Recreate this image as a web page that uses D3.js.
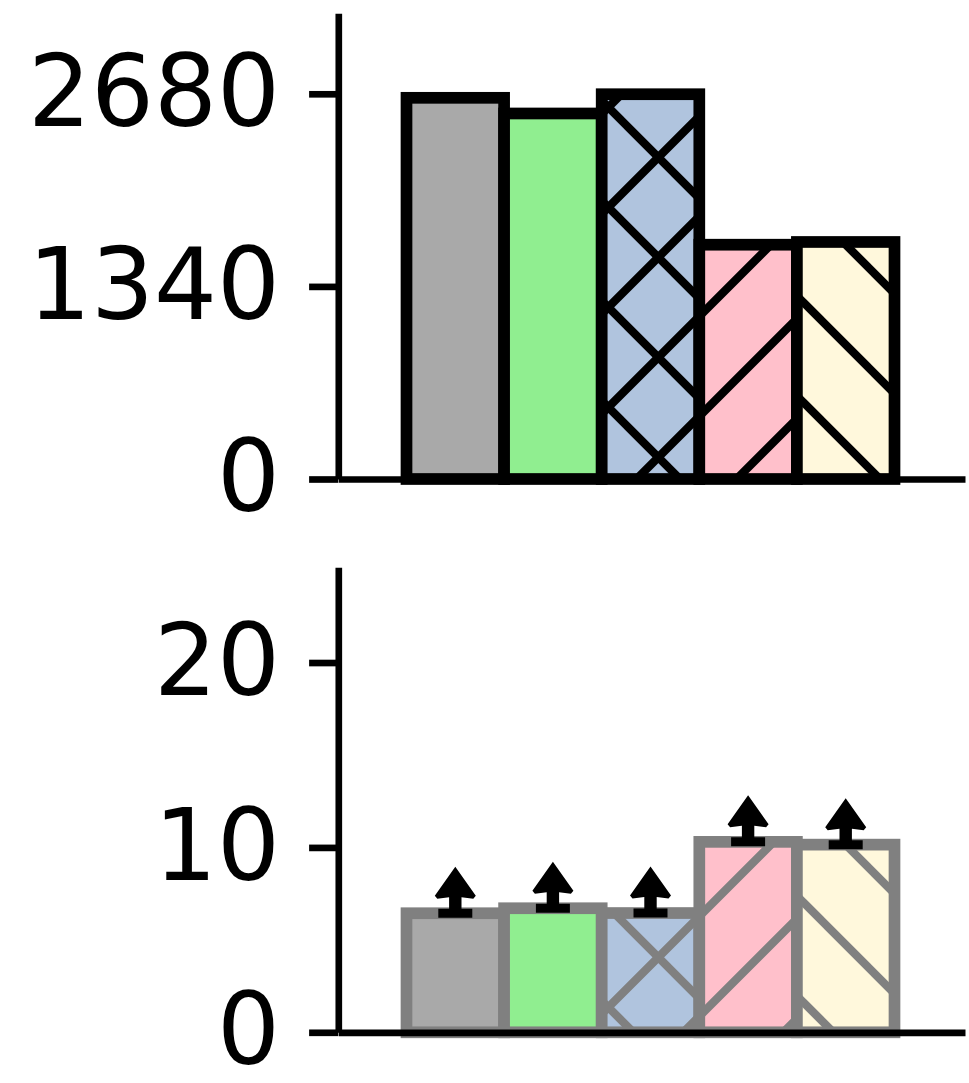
<!DOCTYPE html>
<html>
<head>
<meta charset="utf-8">
<script src="https://cdn.jsdelivr.net/npm/d3@7"></script>
<style>
  body { margin: 0; background: #fff; }
  svg { display: block; }
  text { font-family: "DejaVu Sans", sans-serif; }
</style>
</head>
<body>
<svg width="969" height="1083"></svg>
<script>
// data
const categories = ["A", "B", "C", "D", "E"];
const topValues = [2652, 2543, 2677, 1630, 1649];
const bottomValues = [6.44, 6.71, 6.45, 10.3, 10.15];
const topTicks = [0, 1340, 2680];
const bottomTicks = [0, 10, 20];
const fills = ["#a9a9a9", "#90ee90", "#b0c4de", "#ffc0cb", "#fff8dc"];
const hatches = [null, null, "x", "/", "\\"];

const svg = d3.select("svg");
const defs = svg.append("defs");

const lw = 6.67;      // spine / tick width
const edgeW = 11.7;   // bar edge width
const hatchW = 8.3;

// hatch patterns, aligned to page like matplotlib (period 100px)
function makePattern(id, kind, color) {
  const p = defs.append("pattern")
    .attr("id", id)
    .attr("patternUnits", "userSpaceOnUse")
    .attr("width", 100).attr("height", 100);
  const segs = [];
  if (kind === "/" || kind === "x") {
    [-84.4, 15.6, 115.6, 215.6].forEach(c => segs.push([c + 10, -10, c - 110, 110]));
  }
  if (kind === "\\" || kind === "x") {
    [-99, 1, 101].forEach(d => segs.push([d - 10, -10, d + 110, 110]));
  }
  p.selectAll("line").data(segs).enter().append("line")
    .attr("x1", d => d[0]).attr("y1", d => d[1])
    .attr("x2", d => d[2]).attr("y2", d => d[3])
    .attr("stroke", color).attr("stroke-width", hatchW);
}
["x", "/", "\\"].forEach((k, i) => {
  makePattern("hb" + i, k, "#000");
  makePattern("hg" + i, k, "#808080");
});
const patId = { "x": 0, "/": 1, "\\": 2 };

const x = d3.scaleLinear().domain([-1.2, 5.2]).range([338.3, 965]);
const barW = 97.6;

function panel(values, yMax, ticks, top, bottom, edge, hatchPrefix, arrows) {
  const y = d3.scaleLinear().domain([0, yMax]).range([bottom, top]);
  const g = svg.append("g");
  const xc = i => 455.3 + i * barW;

  values.forEach((v, i) => {
    const x0 = xc(i) - barW / 2;
    const bg = g.append("g");
    bg.append("rect")
      .attr("x", x0).attr("y", y(v))
      .attr("width", barW).attr("height", y(0) - y(v))
      .attr("fill", fills[i]);
    if (hatches[i]) {
      bg.append("rect")
        .attr("x", x0).attr("y", y(v))
        .attr("width", barW).attr("height", y(0) - y(v))
        .attr("fill", "url(#" + hatchPrefix + patId[hatches[i]] + ")");
    }
    bg.append("rect")
      .attr("x", x0).attr("y", y(v))
      .attr("width", barW).attr("height", y(0) - y(v))
      .attr("fill", "none")
      .attr("stroke", edge).attr("stroke-width", edgeW);
  });

  if (arrows) {
    const shape = [[0, -46.5], [20.5, -17.5], [18, -14.5], [6.2, -16], [6.2, -4.5],
      [17, -4.5], [17, 4.5], [-17, 4.5], [-17, -4.5], [-6.2, -4.5], [-6.2, -16],
      [-18, -14.5], [-20.5, -17.5]];
    g.selectAll(".arrow").data(values).enter().append("path")
      .attr("class", "arrow")
      .attr("d", (d, i) => "M" + shape.map(p => [xc(i) + p[0], y(d) + p[1]].join(",")).join("L") + "Z")
      .attr("fill", "#000");
  }

  const ya = g.append("g")
    .attr("transform", "translate(" + x.range()[0] + ",0)")
    .call(d3.axisLeft(y).tickValues(ticks).tickFormat(d3.format("d"))
      .tickSize(29.2).tickPadding(29.2).tickSizeOuter(0));
  ya.select(".domain").attr("stroke", "#000").attr("stroke-width", lw);
  ya.selectAll(".tick line").attr("stroke", "#000").attr("stroke-width", lw);
  ya.selectAll(".tick text")
    .attr("font-size", 99)
    .attr("fill", "#000")
    .attr("font-family", "DejaVu Sans, sans-serif");

  const xa = g.append("g")
    .attr("transform", "translate(0," + y(0) + ")")
    .call(d3.axisBottom(x).tickValues([]).tickSizeOuter(0));
  xa.select(".domain").attr("stroke", "#000").attr("stroke-width", lw);
}

panel(topValues, 3240, topTicks, 13.3, 479, "#000", "hb", false);
panel(bottomValues, 25.15, bottomTicks, 567.3, 1032.3, "#808080", "hg", true);
</script>
</body>
</html>
